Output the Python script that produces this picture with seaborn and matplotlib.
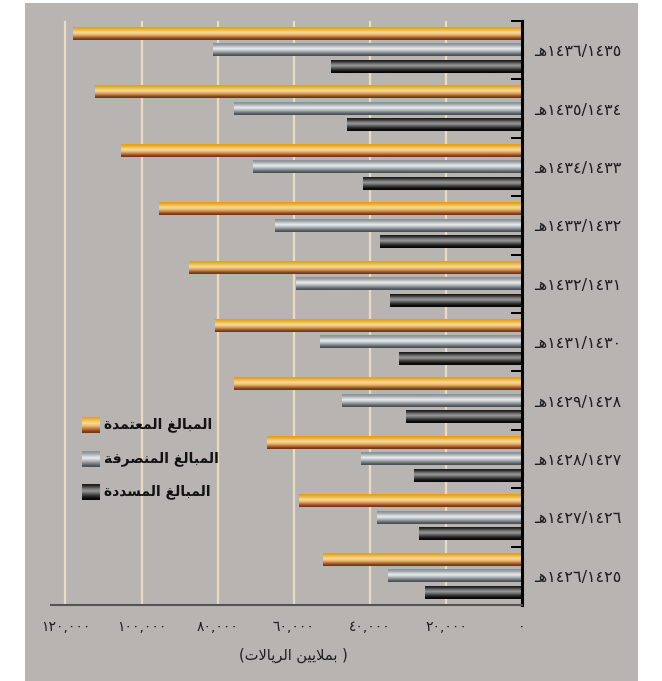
import numpy as np
import pandas as pd
import matplotlib
matplotlib.use("Agg")
import matplotlib.pyplot as plt
from matplotlib.patches import Rectangle
import seaborn as sns

# ---------------- data ----------------
periods = ["١٤٣٦/١٤٣٥", "١٤٣٥/١٤٣٤", "١٤٣٤/١٤٣٣", "١٤٣٣/١٤٣٢", "١٤٣٢/١٤٣١",
           "١٤٣١/١٤٣٠", "١٤٢٩/١٤٢٨", "١٤٢٨/١٤٢٧", "١٤٢٧/١٤٢٦", "١٤٢٦/١٤٢٥"]
series_names = ["المبالغ المعتمدة", "المبالغ المنصرفة", "المبالغ المسددة"]
approved = [118100, 112300, 105500, 95500, 87400, 80800, 75800, 66900, 58500, 52200]
spent = [81300, 75800, 70800, 64800, 59500, 53000, 47400, 42400, 38200, 35300]
repaid = [50300, 45900, 41700, 37200, 34800, 32200, 30400, 28500, 27200, 25400]
x_ticks = [0, 20000, 40000, 60000, 80000, 100000, 120000]
x_tick_labels = ["٠", "٢٠,٠٠٠", "٤٠,٠٠٠", "٦٠,٠٠٠", "٨٠,٠٠٠", "١٠٠,٠٠٠", "١٢٠,٠٠٠"]
unit_label = "بملايين الريالات"

# ---------------- minimal arabic shaping ----------------
FORMS = {
    'ا': ('\uFE8D', '\uFE8E', None, None),
    'ب': ('\uFE8F', '\uFE90', '\uFE91', '\uFE92'),
    'ة': ('\uFE93', '\uFE94', None, None),
    'ت': ('\uFE95', '\uFE96', '\uFE97', '\uFE98'),
    'د': ('\uFEA9', '\uFEAA', None, None),
    'ر': ('\uFEAD', '\uFEAE', None, None),
    'س': ('\uFEB1', '\uFEB2', '\uFEB3', '\uFEB4'),
    'ص': ('\uFEB9', '\uFEBA', '\uFEBB', '\uFEBC'),
    'ع': ('\uFEC9', '\uFECA', '\uFECB', '\uFECC'),
    'غ': ('\uFECD', '\uFECE', '\uFECF', '\uFED0'),
    'ف': ('\uFED1', '\uFED2', '\uFED3', '\uFED4'),
    'ل': ('\uFEDD', '\uFEDE', '\uFEDF', '\uFEE0'),
    'م': ('\uFEE1', '\uFEE2', '\uFEE3', '\uFEE4'),
    'ن': ('\uFEE5', '\uFEE6', '\uFEE7', '\uFEE8'),
    'ه': ('\uFEE9', '\uFEEA', '\uFEEB', '\uFEEC'),
    'ي': ('\uFEF1', '\uFEF2', '\uFEF3', '\uFEF4'),
}


def _dual(c):
    return c in FORMS and FORMS[c][2] is not None


def shape_rtl(text):
    chars = list(text)
    out = []
    i = 0
    while i < len(chars):
        c = chars[i]
        if c not in FORMS:
            out.append(c)
            i += 1
            continue
        prev = chars[i - 1] if i > 0 else None
        jp = prev is not None and _dual(prev)
        if c == 'ل' and i + 1 < len(chars) and chars[i + 1] == 'ا':
            out.append('\uFEFC' if jp else '\uFEFB')
            i += 2
            continue
        nxt = chars[i + 1] if i + 1 < len(chars) else None
        jn = _dual(c) and nxt is not None and nxt in FORMS
        iso, fin, ini, med = FORMS[c]
        if jp and jn:
            f = med
        elif jp:
            f = fin
        elif jn:
            f = ini
        else:
            f = iso
        out.append(f)
        i += 1
    return ''.join(out)[::-1]


HIJRI = "\u0640\uFEEB"  # visual form of "هـ"

# ---------------- figure ----------------
W, H = 662, 681
fig = plt.figure(figsize=(W / 100, H / 100), dpi=100, facecolor="white")
BG = "#B8B4B2"
bg_ax = fig.add_axes([25 / W, 0, (638 - 25) / W, 1 - 3 / H], zorder=-10)
bg_ax.set_facecolor(BG)
bg_ax.set_axis_off()
bg_ax.add_patch(Rectangle((0, 0), 1, 1, transform=bg_ax.transAxes, facecolor=BG,
                          edgecolor="none"))

ax = fig.add_axes([51 / W, 1 - 605 / H, (522 - 51) / W, (605 - 21) / H], zorder=1)
ax.set_facecolor(BG)

df = pd.DataFrame({
    "period": periods * 3,
    "series": [series_names[0]] * len(periods) + [series_names[1]] * len(periods)
              + [series_names[2]] * len(periods),
    "value": approved + spent + repaid,
})

sns.barplot(data=df, x="value", y="period", hue="series", orient="h",
            order=periods, hue_order=series_names, width=0.85, gap=0.24,
            palette=["#E8A020", "#C0C4C8", "#333333"], legend=False, ax=ax,
            errorbar=None, zorder=2)

grads = [
    ["#E2A01E", "#EDB43A", "#F3CA68", "#F6DA92", "#EAC07A", "#CF9250", "#A85E28", "#7E3410"],
    ["#8C9297", "#A6ABAF", "#CCD0D3", "#E8EAEB", "#C6CACD", "#9CA2A6", "#70787D", "#4A5257"],
    ["#1E1E1E", "#4A4A4A", "#7E7E7E", "#959595", "#6E6E6E", "#404040", "#1C1C1C", "#060606"],
]


def grad_img(cols):
    arr = np.array([matplotlib.colors.to_rgb(c) for c in cols])
    return arr[:, None, :]


for ci, cont in enumerate(ax.containers):
    img = grad_img(grads[ci])
    for p in cont.patches:
        x0, y0, w, h = p.get_x(), p.get_y(), p.get_width(), p.get_height()
        p.set_facecolor("none")
        p.set_edgecolor("none")
        ax.imshow(img, extent=(x0, x0 + w, y0 + h, y0), aspect="auto",
                  interpolation="bilinear", zorder=2.5, origin="upper")

ax.set_xlim(123800, 0)
ax.set_ylim(len(periods) - 0.5, -0.5)
ax.set_aspect("auto")

# grid
ax.set_axisbelow(True)
for xv in x_ticks[1:]:
    ax.axvline(xv, color="#E8DDC2", lw=1.6, zorder=1)

# spines
for s in ["top", "left"]:
    ax.spines[s].set_visible(False)
ax.spines["right"].set_color("black")
ax.spines["right"].set_linewidth(2.2)
ax.spines["bottom"].set_color("#555555")
ax.spines["bottom"].set_linewidth(1.5)

# y axis on right
ax.yaxis.tick_right()
ax.set_yticks(range(len(periods)))
ax.set_yticklabels([HIJRI + p for p in periods], fontsize=11.5, color="#1E1E1E",
                   family="DejaVu Sans")
ax.tick_params(axis="y", which="major", length=0, pad=9)
ax.set_yticks(np.arange(-0.5, len(periods), 1.0), minor=True)
ax.tick_params(axis="y", which="minor", direction="in", length=8, width=1.4,
               color="black", right=True, left=False)
ax.set_ylabel("")

# x axis
ax.set_xticks(x_ticks)
ax.set_xticklabels(x_tick_labels, fontsize=10, color="#1E1E1E", family="DejaVu Sans")
ax.tick_params(axis="x", length=0, pad=11)
ax.set_xlabel("")

fig.text(293 / W, 1 - 655 / H, "(" + shape_rtl(unit_label) + " )", ha="center",
         va="center", fontsize=10.5, color="#1E1E1E", family="DejaVu Sans")

# legend
leg_y = [425, 459, 492]
for i, name in enumerate(series_names):
    sw = fig.add_axes([82 / W, 1 - (leg_y[i] + 8) / H, 18 / W, 16 / H], zorder=3)
    sw.imshow(grad_img(grads[i]), aspect="auto", interpolation="bilinear")
    sw.set_axis_off()
    fig.text(104 / W, 1 - leg_y[i] / H, shape_rtl(name), ha="left", va="center",
             fontsize=10, fontweight="bold", color="#111111", family="DejaVu Sans",
             zorder=5)

fig.savefig("out.png", dpi=100, facecolor="white")
